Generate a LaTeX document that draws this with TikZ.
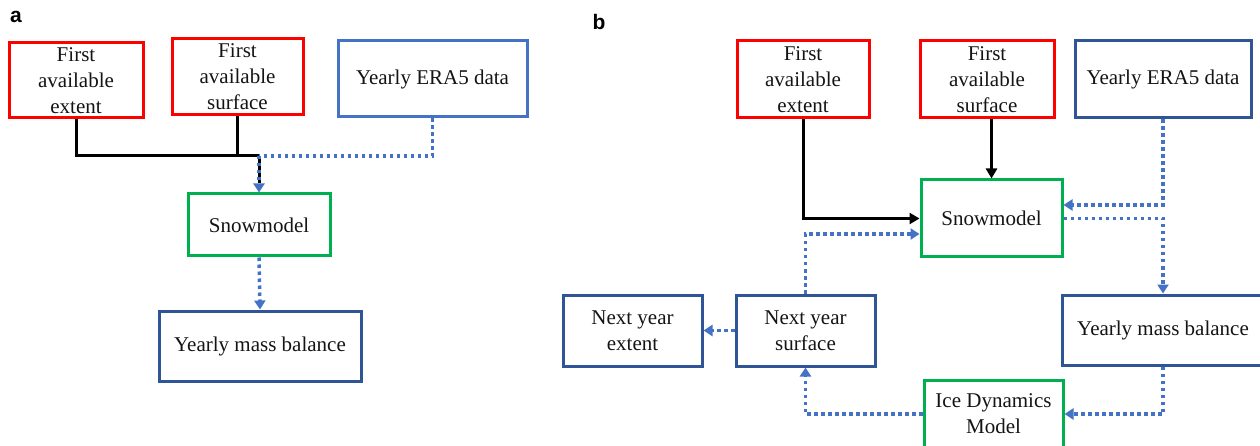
\documentclass[tikz,border=0pt]{standalone}
\usepackage{fontspec}
\setmainfont{Liberation Serif}
\newfontfamily\labelfont{Liberation Sans}
\usetikzlibrary{arrows.meta}

\definecolor{inred}{RGB}{255,0,0}
\definecolor{modgreen}{RGB}{0,176,80}
\definecolor{lightblue}{RGB}{68,114,196}
\definecolor{darkblue}{RGB}{47,85,151}
\definecolor{txt}{RGB}{20,20,20}

\tikzset{
  box/.style={draw, line width=3pt, rectangle, align=center, text=txt,
    font=\fontsize{21}{26}\selectfont, inner sep=0pt},
  inbox/.style={box, draw=inred},
  modbox/.style={box, draw=modgreen},
  databox/.style={box, draw=lightblue},
  outbox/.style={box, draw=darkblue},
  solidlink/.style={draw=black, line width=3pt},
  solidarrow/.style={solidlink, -{Triangle[length=10pt,width=11pt]}},
  dotlink/.style={draw=lightblue, line width=3.5pt, dash pattern=on 3.5pt off 3.5pt},
  dotarrow/.style={dotlink, -{Triangle[length=9pt,width=11pt]}},
  panel/.style={font=\labelfont\bfseries\fontsize{21}{21}\selectfont, inner sep=0pt}
}

\begin{document}
\begin{tikzpicture}[x=1pt, y=-1pt]
\useasboundingbox (0,0) rectangle (1260,446);

% ---------- panel a ----------
\node[panel] (la) at (16,17) {a};

\node[inbox, minimum width=134pt, minimum height=75pt] (aExt) at (76,80.5)
  {First\\available\\extent};
\node[inbox, minimum width=131pt, minimum height=76pt] (aSurf) at (237.5,77)
  {First\\available\\surface};
\node[databox, minimum width=189pt, minimum height=76pt] (aEra) at (432.5,79)
  {Yearly ERA5 data};
\node[modbox, minimum width=142pt, minimum height=62pt] (aSnow) at (259,225)
  {Snowmodel};
\node[outbox, minimum width=202pt, minimum height=70pt] (aMass) at (260,346)
  {Yearly mass balance};

\coordinate (aJ) at (259,156);
\path[solidlink] (aExt.south) |- (aJ);
\path[solidlink] (aSurf.south) -- (aSurf.south |- aJ);
\path[dotlink] (aEra.south) |- (aJ);
\path[solidlink] (aJ) -- ([yshift=9pt]aSnow.north);
\path[dotarrow] (aJ) -- (aSnow.north);
\path[dotarrow] (aSnow.south) -- (aMass.north);

% ---------- panel b ----------
\node[panel] (lb) at (599,22) {b};

\node[inbox, minimum width=132pt, minimum height=77pt] (bExt) at (803,79.5)
  {First\\available\\extent};
\node[inbox, minimum width=134pt, minimum height=77pt] (bSurf) at (987,79.5)
  {First\\available\\surface};
\node[outbox, minimum width=176pt, minimum height=77pt] (bEra) at (1163,79.5)
  {Yearly ERA5 data};
\node[modbox, minimum width=141pt, minimum height=77pt] (bSnow) at (991.5,218.5)
  {Snowmodel};
\node[outbox, minimum width=139pt, minimum height=71pt] (bNExt) at (632.5,330.5)
  {Next year\\extent};
\node[outbox, minimum width=139pt, minimum height=71pt] (bNSurf) at (805.5,330.5)
  {Next year\\surface};
\node[outbox, minimum width=202pt, minimum height=70pt] (bMass) at (1163,330)
  {Yearly mass balance};
\node[modbox, minimum width=139pt, minimum height=68pt] (bIce) at (993.5,414)
  {Ice Dynamics\\Model};

% inputs to the snow model
\path[solidarrow] (bExt.south) |- (bSnow.west);
\path[solidarrow] (bSnow.north |- bSurf.south) -- (bSnow.north);
\path[dotarrow] (bEra.south) |- ([yshift=13.5pt]bSnow.east);
\path[dotarrow] (bNSurf.north) |- ([yshift=-15.5pt]bSnow.west);

% yearly loop
\path[dotarrow] (bSnow.east) -| (bMass.north);
\path[dotarrow] (bMass.south) |- (bIce.east);
\path[dotarrow] (bIce.west) -| (bNSurf.south);
\path[dotarrow] (bNSurf.west) -- (bNExt.east);
\end{tikzpicture}
\end{document}
